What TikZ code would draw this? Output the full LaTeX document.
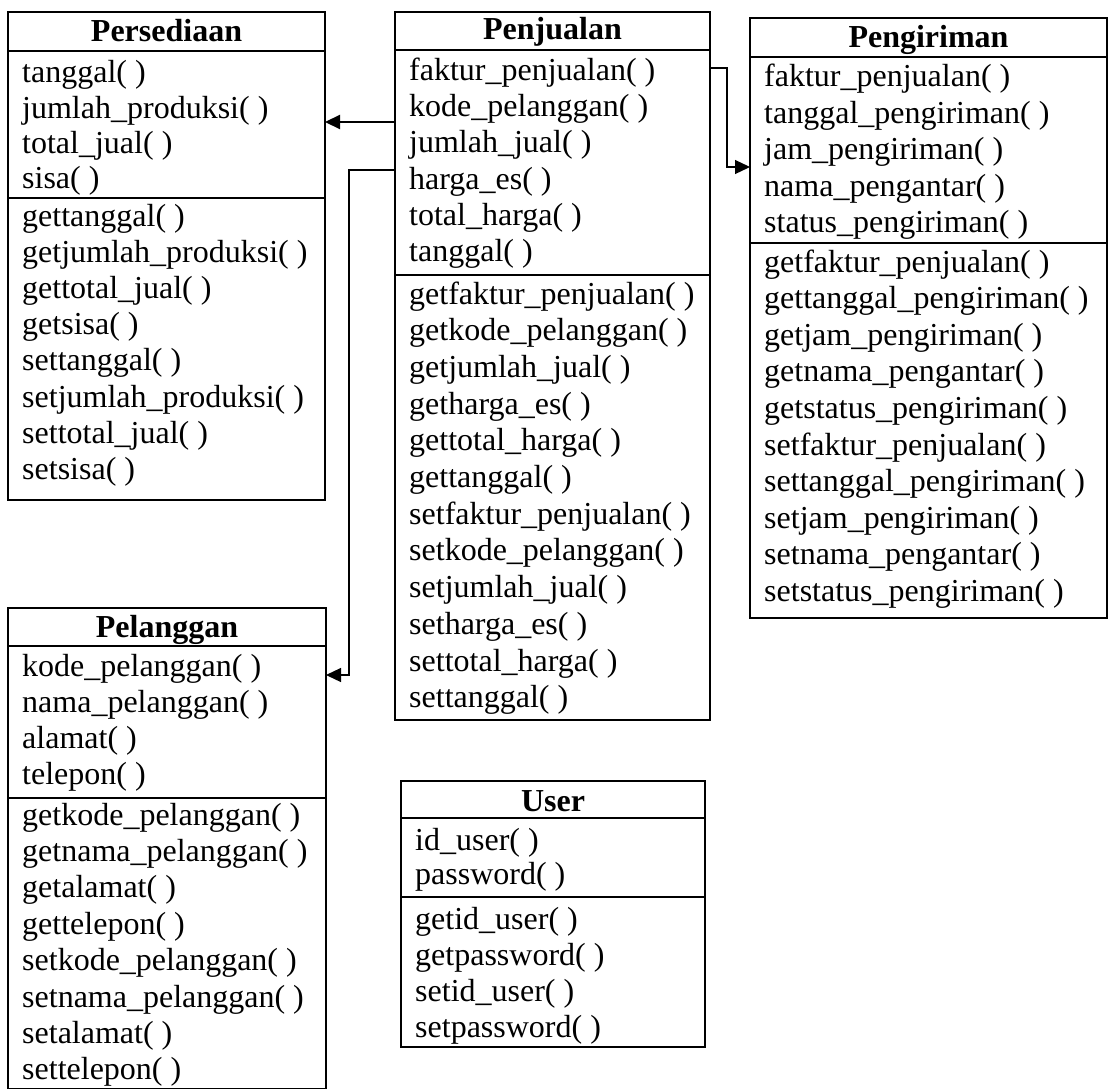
\documentclass[tikz,border=0pt]{standalone}
\usepackage{fontspec}
\setmainfont{Liberation Serif}
\usetikzlibrary{arrows.meta}

\tikzset{
  classbox/.style={draw, line width=1.8pt, rectangle, inner sep=0pt, outer sep=0pt, anchor=north west},
  divider/.style={line width=1.6pt},
  item/.style={anchor=base west, inner sep=0pt, font=\fontsize{32}{36}\selectfont},
  classtitle/.style={anchor=base, inner sep=0pt, font=\fontsize{32}{36}\selectfont\bfseries},
  assoc/.style={line width=1.2pt, -{Triangle[length=15pt,width=14pt]}},
  assocthick/.style={line width=2.2pt, -{Triangle[length=15pt,width=14pt]}},
}

\begin{document}
\begin{tikzpicture}[x=1pt,y=-1pt]
\useasboundingbox (0,0) rectangle (1108,1089);

% ---------- Persediaan ----------
\node[classbox, minimum width=317pt, minimum height=488pt] (persediaan) at (8,12) {};
\draw[divider] (8,51) -- (325,51);
\draw[divider] (8,198) -- (325,198);
\node[classtitle] (persediaan-t) at (166.5,42) {Persediaan};
\foreach \t [count=\i from 0] in {tanggal( ), jumlah\_produksi( ), total\_jual( ), sisa( )}
  \node[item] (persediaan-a\i) at (22,83+\i*35.3) {\t};
\foreach \t [count=\i from 0] in {gettanggal( ), getjumlah\_produksi( ), gettotal\_jual( ), getsisa( ), settanggal( ), setjumlah\_produksi( ), settotal\_jual( ), setsisa( )}
  \node[item] (persediaan-m\i) at (22,226+\i*36.2) {\t};

% ---------- Penjualan ----------
\node[classbox, minimum width=315pt, minimum height=708pt] (penjualan) at (395,12) {};
\draw[divider] (395,50) -- (710,50);
\draw[divider] (395,275) -- (710,275);
\node[classtitle] (penjualan-t) at (552.5,40) {Penjualan};
\foreach \t [count=\i from 0] in {faktur\_penjualan( ), kode\_pelanggan( ), jumlah\_jual( ), harga\_es( ), total\_harga( ), tanggal( )}
  \node[item] (penjualan-a\i) at (409,81+\i*36) {\t};
\foreach \t [count=\i from 0] in {getfaktur\_penjualan( ), getkode\_pelanggan( ), getjumlah\_jual( ), getharga\_es( ), gettotal\_harga( ), gettanggal( ), setfaktur\_penjualan( ), setkode\_pelanggan( ), setjumlah\_jual( ), setharga\_es( ), settotal\_harga( ), settanggal( )}
  \node[item] (penjualan-m\i) at (409,304+\i*36.7) {\t};

% ---------- Pengiriman ----------
\node[classbox, minimum width=357pt, minimum height=600pt] (pengiriman) at (750,18) {};
\draw[divider] (750,57) -- (1107,57);
\draw[divider] (750,243) -- (1107,243);
\node[classtitle] (pengiriman-t) at (928.5,48) {Pengiriman};
\foreach \t [count=\i from 0] in {faktur\_penjualan( ), tanggal\_pengiriman( ), jam\_pengiriman( ), nama\_pengantar( ), status\_pengiriman( )}
  \node[item] (pengiriman-a\i) at (764,87+\i*36.4) {\t};
\foreach \t [count=\i from 0] in {getfaktur\_penjualan( ), gettanggal\_pengiriman( ), getjam\_pengiriman( ), getnama\_pengantar( ), getstatus\_pengiriman( ), setfaktur\_penjualan( ), settanggal\_pengiriman( ), setjam\_pengiriman( ), setnama\_pengantar( ), setstatus\_pengiriman( )}
  \node[item] (pengiriman-m\i) at (764,272+\i*36.6) {\t};

% ---------- Pelanggan ----------
\node[classbox, minimum width=318pt, minimum height=481pt] (pelanggan) at (8,608) {};
\draw[divider] (8,646) -- (326,646);
\draw[divider] (8,798) -- (326,798);
\node[classtitle] (pelanggan-t) at (167,637) {Pelanggan};
\foreach \t [count=\i from 0] in {kode\_pelanggan( ), nama\_pelanggan( ), alamat( ), telepon( )}
  \node[item] (pelanggan-a\i) at (22,676+\i*36) {\t};
\foreach \t [count=\i from 0] in {getkode\_pelanggan( ), getnama\_pelanggan( ), getalamat( ), gettelepon( ), setkode\_pelanggan( ), setnama\_pelanggan( ), setalamat( ), settelepon( )}
  \node[item] (pelanggan-m\i) at (22,825+\i*36.4) {\t};

% ---------- User ----------
\node[classbox, minimum width=304pt, minimum height=266pt] (user) at (401,781) {};
\draw[divider] (401,818) -- (705,818);
\draw[divider] (401,897) -- (705,897);
\node[classtitle] (user-t) at (553,811) {User};
\foreach \t [count=\i from 0] in {id\_user( ), password( )}
  \node[item] (user-a\i) at (415,850+\i*34) {\t};
\foreach \t [count=\i from 0] in {getid\_user( ), getpassword( ), setid\_user( ), setpassword( )}
  \node[item] (user-m\i) at (415,929+\i*36.2) {\t};

% ---------- Associations ----------
\coordinate (bend-pel-a) at (349,170);
\coordinate (bend-pel-b) at (349,675);
\coordinate (bend-pen-a) at (727,68);
\coordinate (bend-pen-b) at (727,167);

\draw[assocthick] (penjualan.west |- 0,122) -- (persediaan.east |- 0,122);
\draw[assoc] (penjualan.west |- bend-pel-a) -- (bend-pel-a) -- (bend-pel-b) -- (pelanggan.east |- bend-pel-b);
\draw[assoc] (penjualan.east |- bend-pen-a) -- (bend-pen-a) -- (bend-pen-b) -- (pengiriman.west |- bend-pen-b);
\end{tikzpicture}
\end{document}
